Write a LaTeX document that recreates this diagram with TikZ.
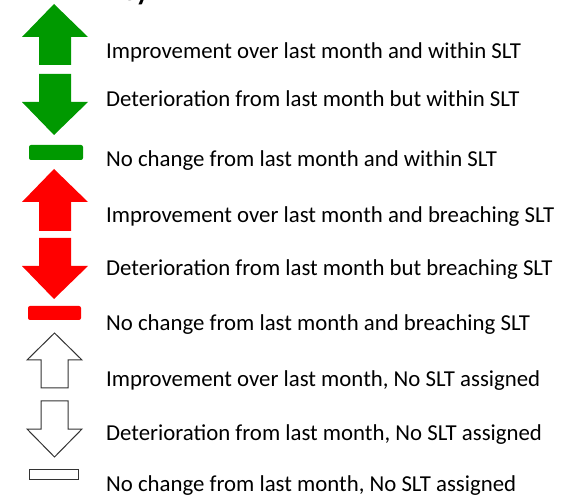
\documentclass[tikz,border=0pt]{standalone}
\usepackage{fontspec}
\setmainfont{Carlito}
\usetikzlibrary{positioning}

\definecolor{slt green}{RGB}{0,153,0}
\definecolor{slt red}{RGB}{255,0,0}

\tikzset{
  key text/.style={anchor=base west,inner sep=0pt,font=\fontsize{22.8}{26}\selectfont},
  green icon/.style={fill=slt green,draw=none},
  red icon/.style={fill=slt red,draw=none},
  blank icon/.style={fill=white,draw=black!80,line width=1pt,line join=miter}
}

\begin{document}
\begin{tikzpicture}[x=1pt,y=-1pt]
  \useasboundingbox (0,0) rectangle (571,497);

  % title, cut off at the top
  \begin{scope}
    \clip (0,0) rectangle (571,497);
    \node[anchor=base west,inner sep=0pt,font=\fontsize{28}{30}\selectfont\bfseries] (title) at (107,1) {Key};
  \end{scope}

  % within SLT
  \fill[green icon] (54,4) -- (88,37) -- (71,37) -- (71,65) -- (39,65) -- (39,37) -- (22,37) -- cycle;
  \fill[green icon] (54,135) -- (88,102) -- (71,102) -- (71,74) -- (39,74) -- (39,102) -- (22,102) -- cycle;
  \fill[green icon,rounded corners=2pt] (29,145) rectangle (83,160);

  % breaching SLT
  \fill[red icon] (54,169) -- (88,202) -- (71,202) -- (71,231) -- (39,231) -- (39,202) -- (22,202) -- cycle;
  \fill[red icon] (54,299) -- (88,266) -- (71,266) -- (71,238) -- (39,238) -- (39,266) -- (22,266) -- cycle;
  \fill[red icon,rounded corners=2pt] (28,306) rectangle (81,320);

  % no SLT assigned
  \draw[blank icon] (54.5,333) -- (82,360) -- (68,360) -- (68,388) -- (41,388) -- (41,360) -- (27,360) -- cycle;
  \draw[blank icon] (54.5,457) -- (82,429) -- (68,429) -- (68,401) -- (41,401) -- (41,429) -- (27,429) -- cycle;
  \draw[blank icon] (29,469) rectangle (78,479);

  \node[key text] (t1) at (106,59)  {Improvement over last month and within SLT};
  \node[key text] (t2) at (106,107) {Deterioration from last month but within SLT};
  \node[key text] (t3) at (106,167) {No change from last month and within SLT};
  \node[key text] (t4) at (106,223) {Improvement over last month and breaching SLT};
  \node[key text] (t5) at (106,276) {Deterioration from last month but breaching SLT};
  \node[key text] (t6) at (106,331) {No change from last month and breaching SLT};
  \node[key text] (t7) at (106,387) {Improvement over last month, No SLT assigned};
  \node[key text] (t8) at (106,440) {Deterioration from last month, No SLT assigned};
  \node[key text] (t9) at (106,491.5) {No change from last month, No SLT assigned};
\end{tikzpicture}
\end{document}
